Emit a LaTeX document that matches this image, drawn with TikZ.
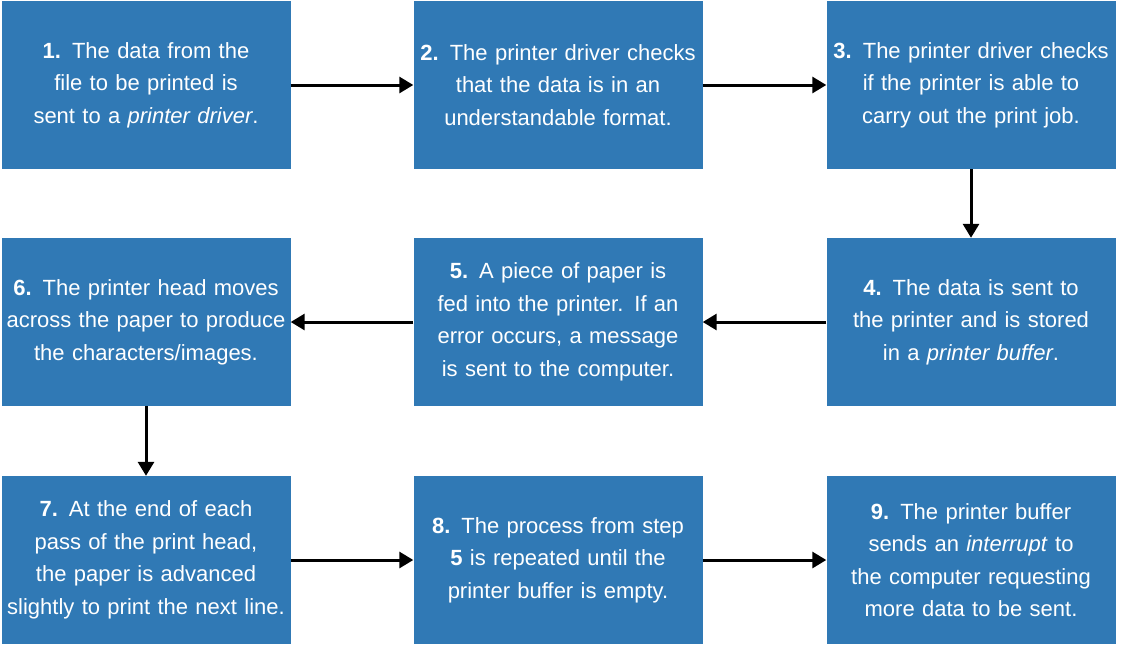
\documentclass[tikz,border=0pt]{standalone}
\usepackage{fontspec}
\setmainfont{Liberation Sans}
\usetikzlibrary{arrows.meta}
\definecolor{boxblue}{HTML}{3079B5}
\begin{document}
\begin{tikzpicture}[x=1pt,y=-1pt,
  stepbox/.style={fill=boxblue,text=white,minimum width=289pt,minimum height=168pt,
    text width=285pt,align=center,inner sep=0pt,font=\fontsize{22}{32.5}\selectfont},
  conn/.style={-{Triangle[length=14pt,width=16pt]},line width=3pt,black}]
\useasboundingbox (0,0) rectangle (1121,651);
\node[stepbox] (n1) at (146,85) {\textbf{1.} The data from the file to be printed is sent to a \textit{printer driver}.};
\node[stepbox] (n2) at (558,85) {\textbf{2.} The printer driver checks that the data is in an understandable format.};
\node[stepbox] (n3) at (971,85) {\textbf{3.} The printer driver checks if the printer is able to carry out the print job.};
\node[stepbox] (n4) at (971,322) {\textbf{4.} The data is sent to the printer and is stored in a \textit{printer buffer}.};
\node[stepbox] (n5) at (558,322) {\textbf{5.} A piece of paper is fed into the printer. If an error occurs, a message is sent to the computer.};
\node[stepbox] (n6) at (146,322) {\textbf{6.} The printer head moves across the paper to produce the characters/images.};
\node[stepbox] (n7) at (146,560) {\textbf{7.} At the end of each pass of the print head, the paper is advanced slightly to print the next line.};
\node[stepbox] (n8) at (558,560) {\textbf{8.} The process from step \textbf{5} is repeated until the printer buffer is empty.};
\node[stepbox] (n9) at (971,560) {\textbf{9.} The printer buffer sends an \textit{interrupt} to the computer requesting more data to be sent.};
\draw[conn] (n1) -- (n2);
\draw[conn] (n2) -- (n3);
\draw[conn] (n3) -- (n4);
\draw[conn] (n4) -- (n5);
\draw[conn] (n5) -- (n6);
\draw[conn] (n6) -- (n7);
\draw[conn] (n7) -- (n8);
\draw[conn] (n8) -- (n9);
\end{tikzpicture}
\end{document}
